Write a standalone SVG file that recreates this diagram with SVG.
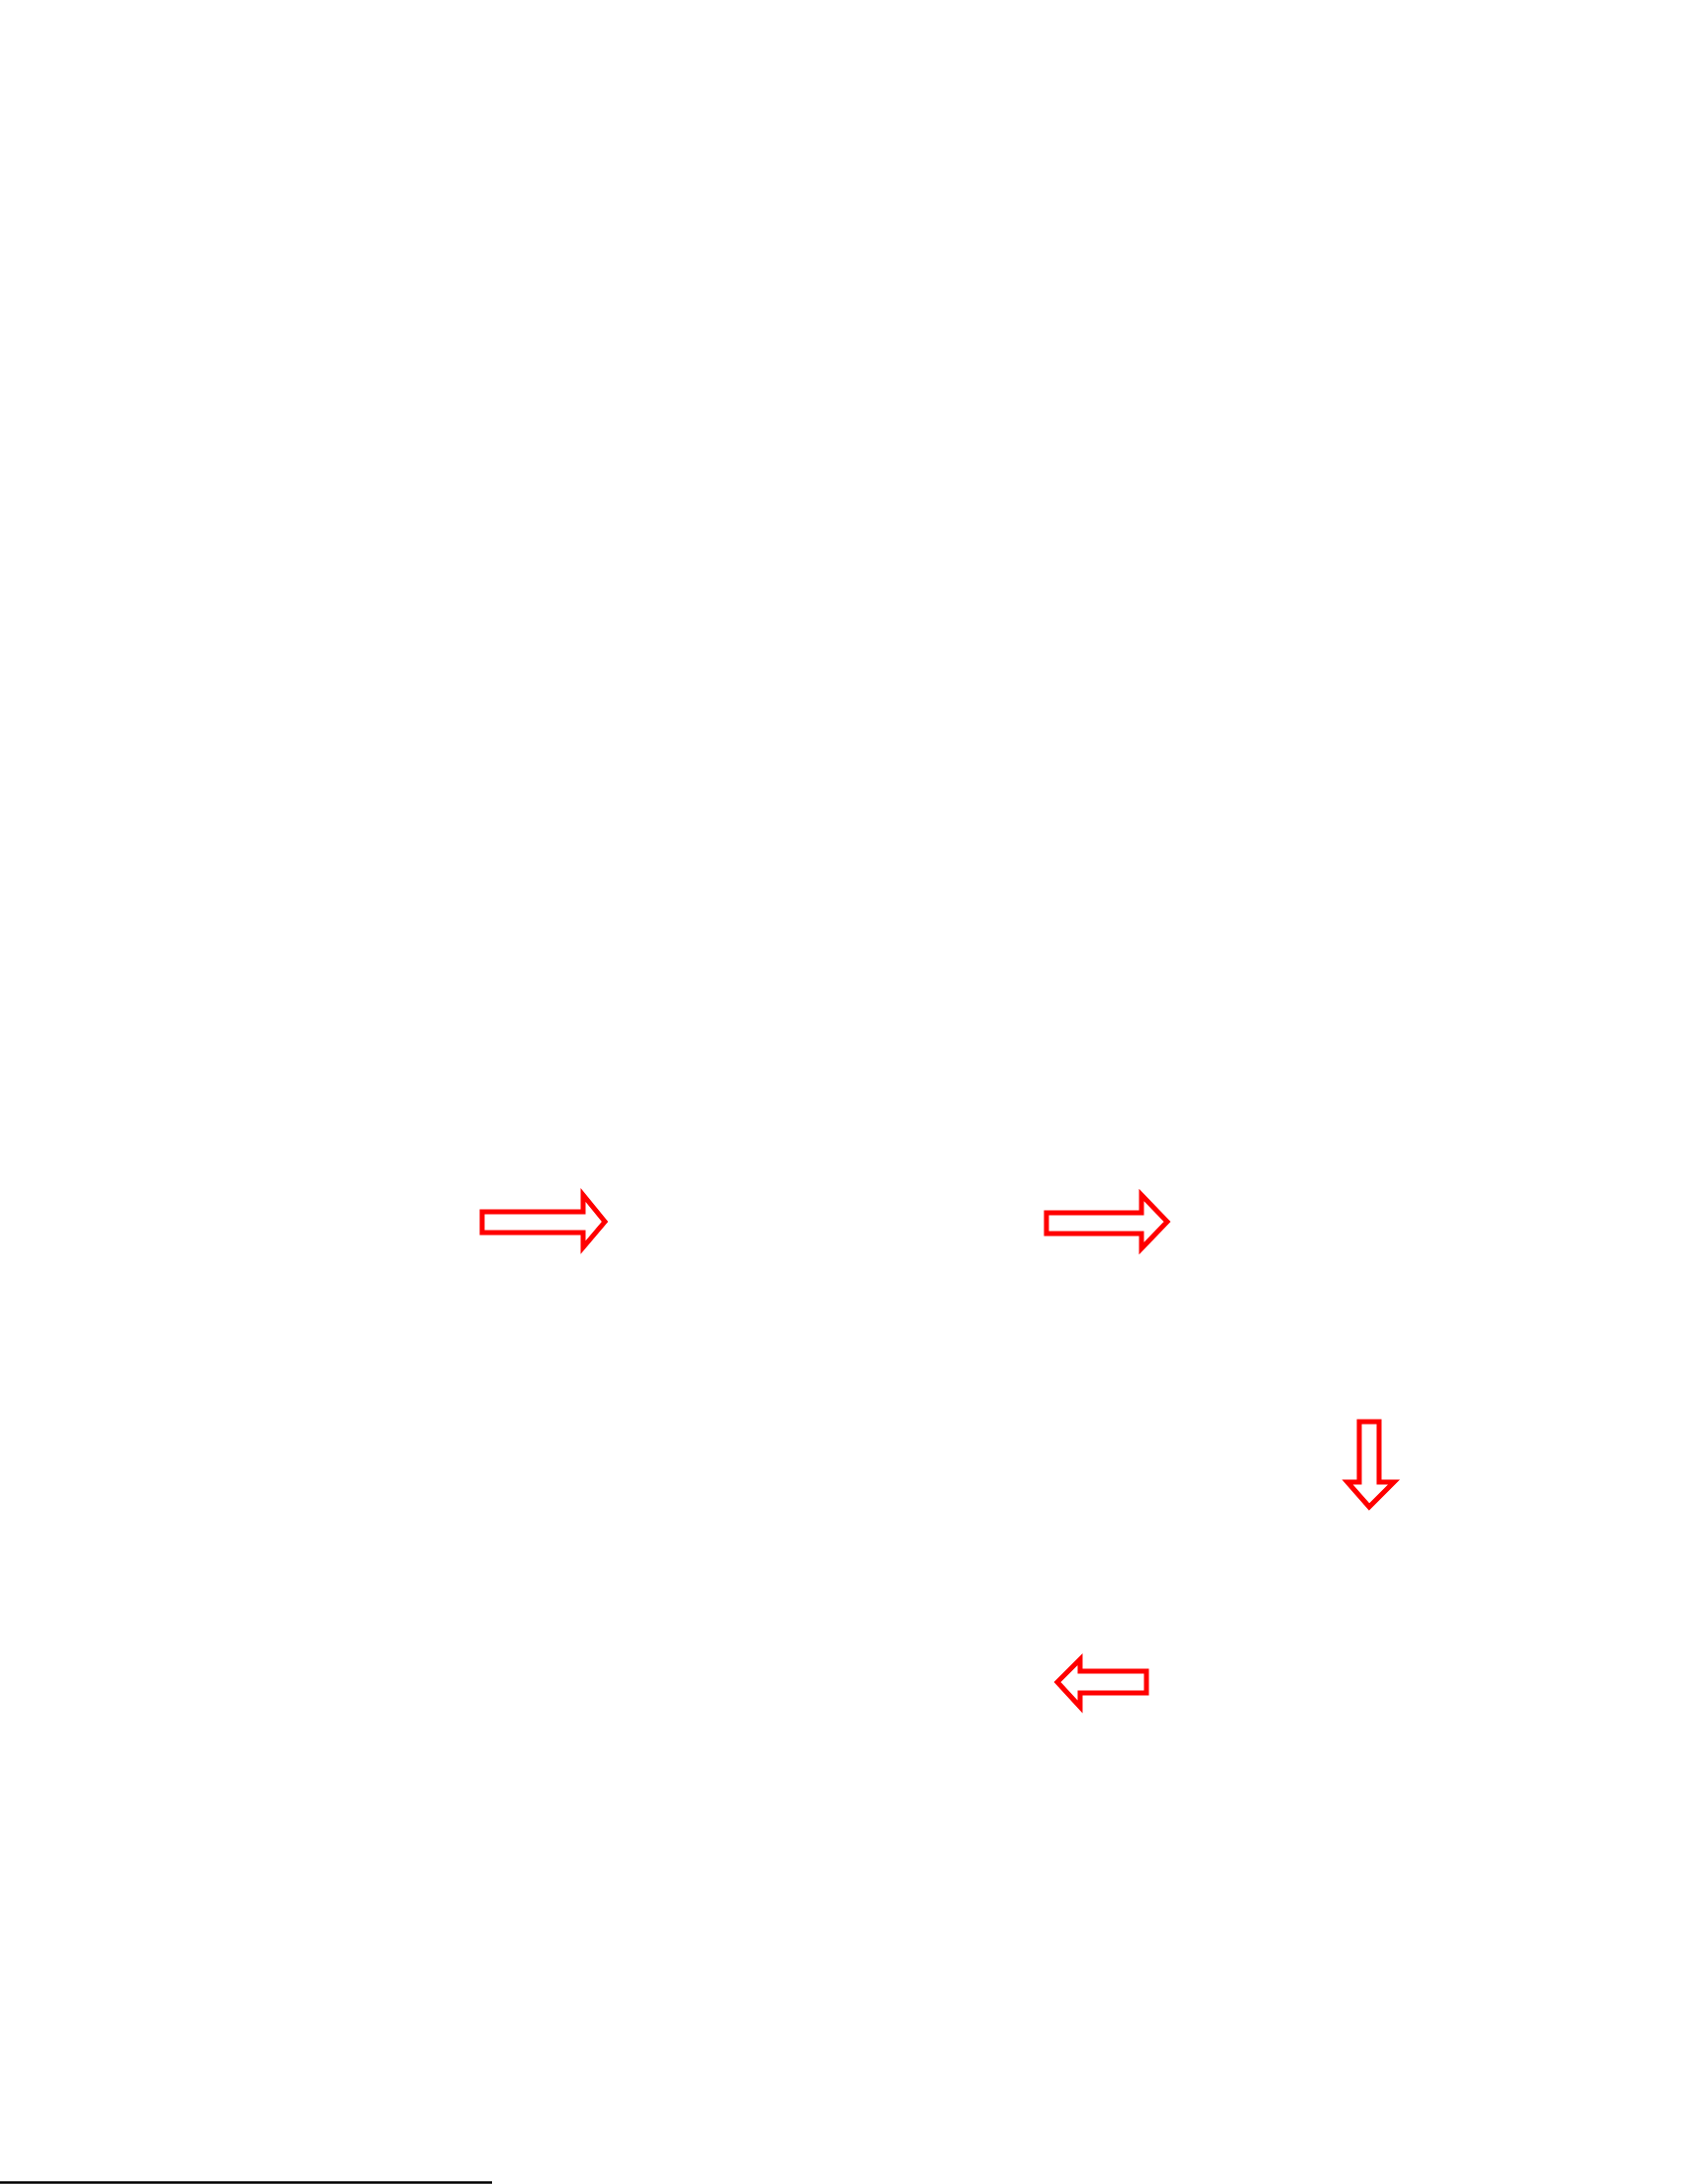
<svg xmlns="http://www.w3.org/2000/svg" width="1702" height="2206" viewBox="0 0 1702 2206">
<style>
.arr{fill:#ffffff;stroke:#ff0000;stroke-width:5;stroke-linejoin:miter}
.rule{stroke:#000000;stroke-width:2.5}
</style>
<rect width="1702" height="2206" fill="#ffffff"/>
<g id="connectors">
<g id="arrow1"><path class="arr" d="M487,1224 H589 V1207 L611,1234 L589,1260 V1245 H487 Z"/></g>
<g id="arrow2"><path class="arr" d="M1057,1225 H1153 V1207 L1179,1234 L1153,1261 V1246 H1057 Z"/></g>
<g id="arrow3"><path class="arr" d="M1373,1436 H1393 V1497 H1408 L1383,1522 L1361,1497 H1373 Z"/></g>
<g id="arrow4"><path class="arr" d="M1158,1688 H1091 V1676 L1068,1699 L1091,1724 V1710 H1158 Z"/></g>
</g>
<line class="rule" x1="0" y1="2204.5" x2="497" y2="2204.5"/>
</svg>
